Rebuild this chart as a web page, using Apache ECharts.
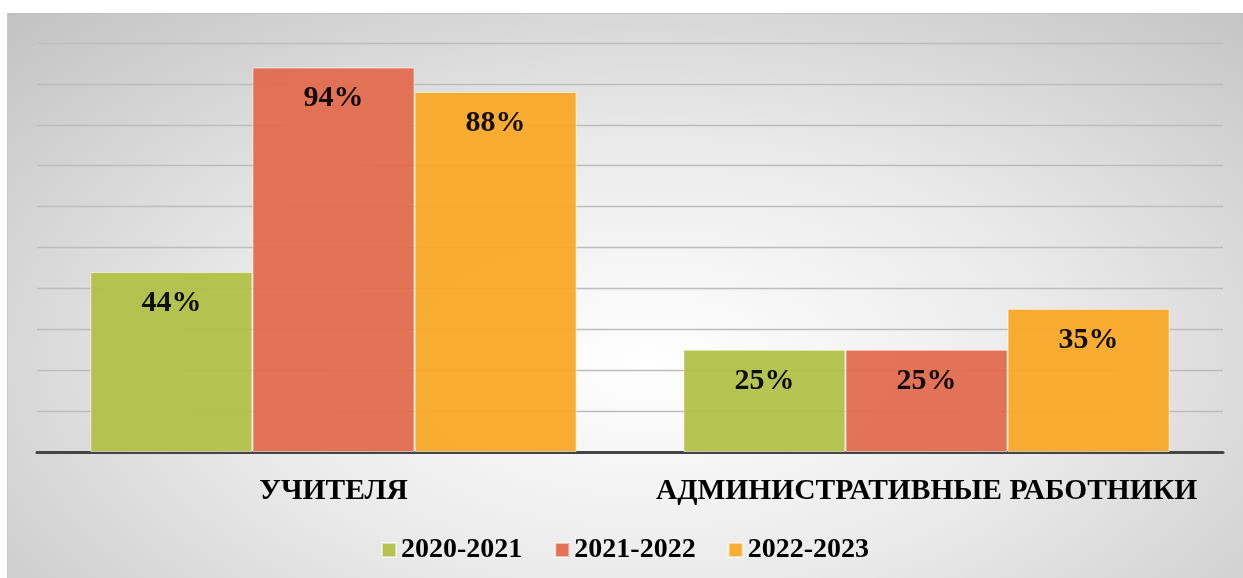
<!DOCTYPE html>
<html>
<head>
<meta charset="utf-8">
<script src="https://cdn.jsdelivr.net/npm/echarts@6/dist/echarts.min.js"></script>
<style>
  html, body { margin: 0; padding: 0; background: #fff; }
  #bg {
    position: absolute; left: 7px; top: 13px; width: 1236px; height: 565px;
    border-top: 1px solid #c4c4c4; border-left: 1px solid #c8c8c8; box-sizing: border-box;
    background: radial-gradient(ellipse at 52% 62%, #ffffff 0%, #eaeaea 45%, #c2c2c2 100%);
  }
  #chart { position: absolute; left: 0; top: 0; width: 1243px; height: 578px; }
</style>
</head>
<body>
<div id="bg"></div>
<div id="chart"></div>
<script>
  // категории и значения (в процентах)
  const categories = ['УЧИТЕЛЯ', 'АДМИНИСТРАТИВНЫЕ РАБОТНИКИ'];
  const seriesNames = ['2020-2021', '2021-2022', '2022-2023'];
  const values2020 = [44, 25];
  const values2021 = [94, 25];
  const values2022 = [88, 35];
  const colors = ['#b0bf45', '#e2694a', '#f9a823'];

  const font = 'Liberation Serif, Times New Roman, serif';
  const chart = echarts.init(document.getElementById('chart'));

  const makeSeries = (name, data, color) => ({
    name: name,
    type: 'bar',
    data: data,
    barGap: 0,
    barCategoryGap: '18%',
    itemStyle: {
      color: color,
      opacity: 0.93,
      borderColor: 'rgba(255,255,255,0.6)',
      borderWidth: 1
    },
    label: {
      show: true,
      position: 'insideTop',
      distance: 16,
      formatter: '{c}%',
      color: '#000',
      fontFamily: font,
      fontWeight: 'bold',
      fontSize: 30
    }
  });

  const option = {
    animation: false,
    grid: { left: 37, right: 20, top: 43, bottom: 126, containLabel: false },
    legend: {
      left: 376,
      top: 531,
      itemWidth: 14,
      itemHeight: 14,
      itemGap: 32,
      icon: 'rect',
      textStyle: { color: '#000', fontFamily: font, fontWeight: 'bold', fontSize: 28 },
      data: seriesNames
    },
    xAxis: {
      type: 'category',
      data: categories,
      axisTick: { show: false },
      axisLine: { lineStyle: { color: '#454545', width: 3 } },
      axisLabel: {
        interval: 0,
        margin: 24,
        color: '#000',
        fontFamily: font,
        fontWeight: 'bold',
        fontSize: 29.5
      }
    },
    yAxis: {
      type: 'value',
      min: 0,
      max: 100,
      interval: 10,
      axisLabel: { show: false },
      axisLine: { show: false },
      axisTick: { show: false },
      splitLine: { lineStyle: { color: '#bdbdbd', width: 1.3 } }
    },
    series: [
      makeSeries(seriesNames[0], values2020, colors[0]),
      makeSeries(seriesNames[1], values2021, colors[1]),
      makeSeries(seriesNames[2], values2022, colors[2])
    ]
  };

  chart.setOption(option);
</script>
</body>
</html>
